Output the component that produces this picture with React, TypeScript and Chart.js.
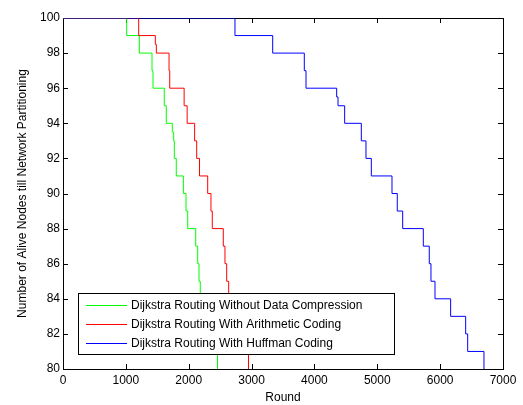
import React, { useEffect, useRef } from "react";
import { Chart, registerables } from "chart.js";

Chart.register(...registerables);

const seriesLabels = [
  "Dijkstra Routing Without Data Compression",
  "Dijkstra Routing With Arithmetic Coding",
  "Dijkstra Routing With Huffman Coding",
];
const seriesColors = ["#00ff00", "#ff0000", "#0000ff"];

const greenRounds = [0, 1013, 1214, 1416, 1432, 1611, 1643, 1739, 1761, 1771, 1802, 1915, 1957, 1984, 2111, 2143, 2164, 2184, 2250, 2320, 2390, 2458];
const greenAlive = [100, 99, 98, 97, 96, 95, 94, 93.5, 93, 92, 91, 90, 89, 88, 87, 86, 85, 84, 83, 82, 81, 79];

const redRounds = [0, 1204, 1469, 1485, 1687, 1698, 1927, 1975, 2094, 2127, 2172, 2302, 2354, 2375, 2550, 2577, 2604, 2636, 2720, 2800, 2880, 2951];
const redAlive = [100, 99, 98.5, 98, 97, 96, 95, 94, 93, 92, 91, 90, 89, 88, 87, 86, 85, 84, 83, 82, 81, 79];

const blueRounds = [0, 2736, 3336, 3839, 3866, 4354, 4375, 4481, 4746, 4820, 4905, 5234, 5318, 5404, 5732, 5827, 5854, 5918, 6167, 6406, 6438, 6697];
const blueAlive = [100, 99, 98, 97, 96, 95.5, 95, 94, 93, 92, 91, 90, 89, 88, 87, 86, 85, 84, 83, 82, 81, 79];

const xTicks = [0, 1000, 2000, 3000, 4000, 5000, 6000, 7000];
const yTicks = [80, 82, 84, 86, 88, 90, 92, 94, 96, 98, 100];

const FONT = 'Arial, "Liberation Sans", sans-serif';

const toPoints = (xs: number[], ys: number[]) => xs.map((x, i) => ({ x, y: ys[i] }));

const framePlugin = {
  id: "matlabFrame",
  beforeDatasetsDraw(chart: any) {
    const { ctx, chartArea, scales } = chart;
    const { left, right, top, bottom } = chartArea;
    ctx.save();
    ctx.strokeStyle = "#000";
    ctx.lineWidth = 1;
    ctx.strokeRect(Math.round(left) + 0.5, Math.round(top) + 0.5, Math.round(right - left), Math.round(bottom - top));
    ctx.beginPath();
    xTicks.forEach((v) => {
      const px = Math.round(scales.x.getPixelForValue(v)) + 0.5;
      ctx.moveTo(px, bottom);
      ctx.lineTo(px, bottom - 5);
      ctx.moveTo(px, top);
      ctx.lineTo(px, top + 5);
    });
    yTicks.forEach((v) => {
      const py = Math.round(scales.y.getPixelForValue(v)) + 0.5;
      ctx.moveTo(left, py);
      ctx.lineTo(left + 5, py);
      ctx.moveTo(right, py);
      ctx.lineTo(right - 5, py);
    });
    ctx.stroke();
    ctx.restore();
  },
  afterDatasetsDraw(chart: any) {
    const { ctx } = chart;
    ctx.save();
    const bx = 78.5, by = 293.5, bw = 316, bh = 61;
    ctx.fillStyle = "#fff";
    ctx.fillRect(bx, by, bw, bh);
    ctx.strokeStyle = "#000";
    ctx.lineWidth = 1;
    ctx.strokeRect(bx, by, bw, bh);
    const rows = [305, 324, 343];
    ctx.font = `12px ${FONT}`;
    ctx.textBaseline = "middle";
    ctx.textAlign = "left";
    seriesLabels.forEach((label, i) => {
      ctx.fillStyle = seriesColors[i];
      ctx.fillRect(86, rows[i], 41, 1);
      ctx.fillStyle = "#000";
      ctx.fillText(label, 131, rows[i] + 1);
    });
    ctx.restore();
  },
};

export default function App() {
  const canvasRef = useRef<HTMLCanvasElement | null>(null);

  useEffect(() => {
    if (!canvasRef.current) return;
    const chart = new Chart(canvasRef.current, {
      type: "line",
      data: {
        datasets: [
          { label: seriesLabels[0], data: toPoints(greenRounds, greenAlive), borderColor: seriesColors[0], order: 2 },
          { label: seriesLabels[1], data: toPoints(redRounds, redAlive), borderColor: seriesColors[1], order: 1 },
          { label: seriesLabels[2], data: toPoints(blueRounds, blueAlive), borderColor: seriesColors[2], order: 0 },
        ].map((d) => ({ ...d, borderWidth: 1, pointRadius: 0, stepped: true, fill: false, tension: 0 })),
      },
      options: {
        animation: false,
        responsive: false,
        devicePixelRatio: 1,
        layout: { padding: { top: 18, right: 20, left: 0, bottom: 0 } },
        plugins: { legend: { display: false }, tooltip: { enabled: false } },
        scales: {
          x: {
            type: "linear",
            min: 0,
            max: 7000,
            afterBuildTicks: (scale: any) => {
              scale.ticks = xTicks.map((v) => ({ value: v }));
            },
            afterFit: (scale: any) => {
              scale.height = 36;
            },
            grid: { display: false, drawTicks: false },
            border: { display: false },
            ticks: {
              color: "#000",
              font: { size: 12, family: FONT },
              padding: 4,
              maxRotation: 0,
              callback: (v: any) => String(v),
            },
            title: { display: true, text: "Round", color: "#000", font: { size: 12, family: FONT }, padding: { top: 0, bottom: 0 } },
          },
          y: {
            type: "linear",
            min: 80,
            max: 100,
            afterBuildTicks: (scale: any) => {
              scale.ticks = yTicks.map((v) => ({ value: v }));
            },
            afterFit: (scale: any) => {
              scale.width = 63;
            },
            grid: { display: false, drawTicks: false },
            border: { display: false },
            ticks: { color: "#000", font: { size: 12, family: FONT }, padding: 3, callback: (v: any) => String(v) },
            title: {
              display: true,
              text: "Number of Alive Nodes till Network Partitioning",
              color: "#000",
              font: { size: 12, family: FONT },
              padding: { top: 15, bottom: 0 },
            },
          },
        },
      },
      plugins: [framePlugin],
    });
    return () => chart.destroy();
  }, []);

  return (
    <div style={{ position: "fixed", left: 0, top: 0, width: 523, height: 405, background: "#fff" }}>
      <canvas ref={canvasRef} width={523} height={405} style={{ display: "block" }} />
    </div>
  );
}
